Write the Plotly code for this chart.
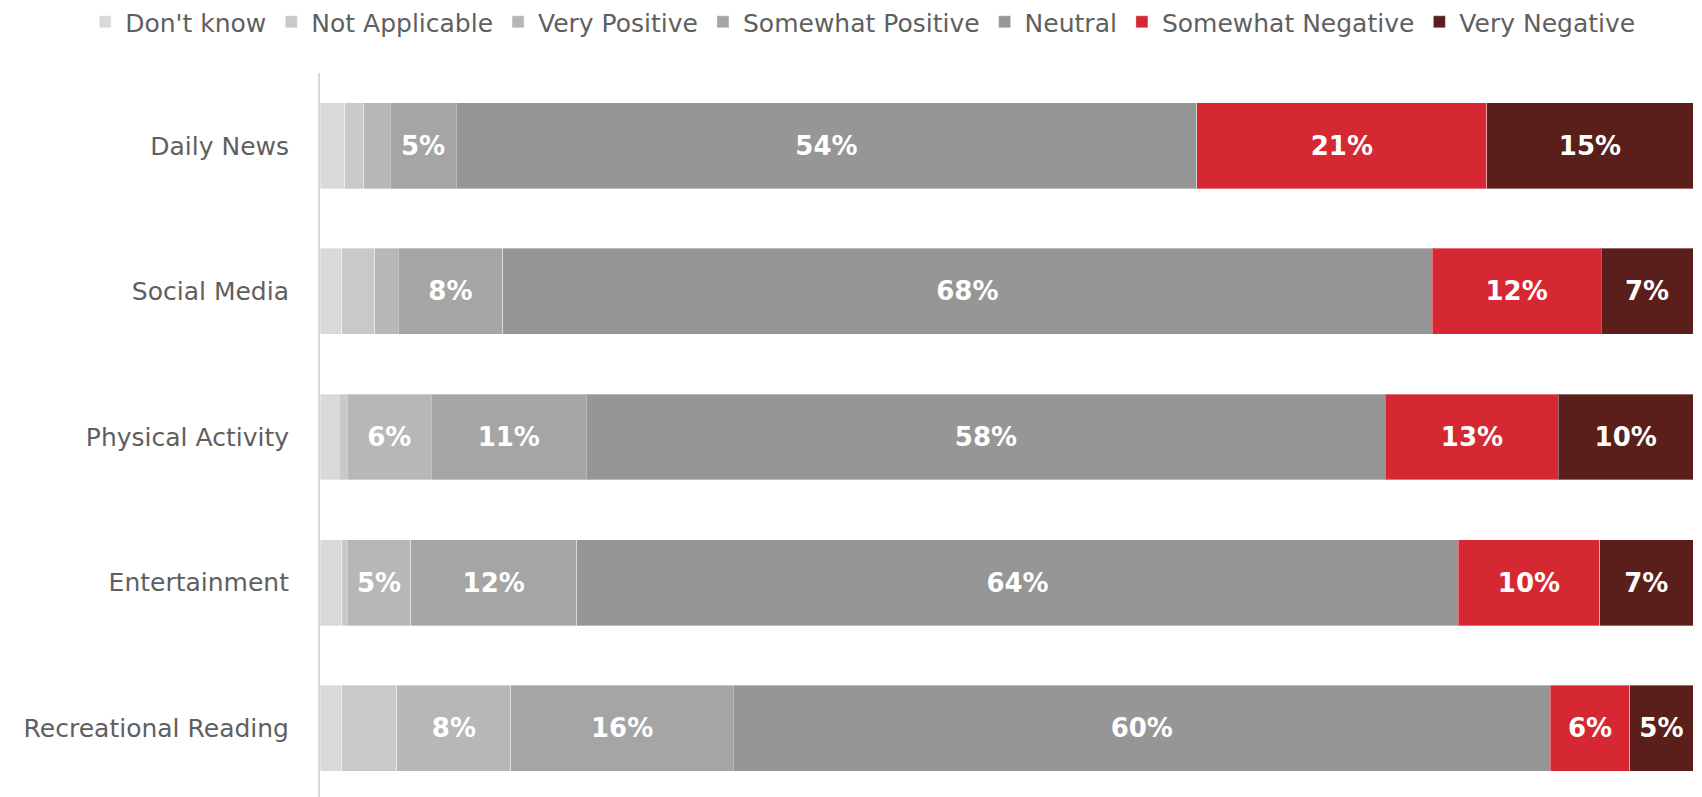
import plotly.graph_objects as go

categories = ["Daily News", "Social Media", "Physical Activity", "Entertainment", "Recreational Reading"]

dont_know = [1.8, 1.6, 1.4, 1.6, 1.6]
not_applicable = [1.4, 2.4, 0.6, 0.4, 4.0]
very_positive = [1.9, 1.7, 6.1, 4.6, 8.3]
somewhat_positive = [4.8, 7.6, 11.3, 12.1, 16.2]
neutral = [53.9, 67.7, 58.2, 64.2, 59.5]
somewhat_negative = [21.1, 12.3, 12.6, 10.3, 5.8]
very_negative = [15.0, 6.7, 9.8, 6.8, 4.6]

series = [
    ("Don't know", dont_know, "#D9D9D9"),
    ("Not Applicable", not_applicable, "#C9C9C9"),
    ("Very Positive", very_positive, "#B7B7B7"),
    ("Somewhat Positive", somewhat_positive, "#A5A5A5"),
    ("Neutral", neutral, "#969696"),
    ("Somewhat Negative", somewhat_negative, "#D62832"),
    ("Very Negative", very_negative, "#5B1F1B"),
]

FONT = "DejaVu Sans"

fig = go.Figure()
for name, vals, color in series:
    # only label segments wide enough to hold the number
    labels = [f"{int(v + 0.5)}%" if v >= 4.5 else "" for v in vals]
    fig.add_trace(go.Bar(
        y=categories,
        x=vals,
        name=name,
        orientation="h",
        marker=dict(color=color, line=dict(color="rgba(255,255,255,0.35)", width=1)),
        text=labels,
        textposition="inside",
        insidetextanchor="middle",
        textangle=0,
        constraintext="none",
        textfont=dict(family=FONT, size=26, color="white", weight="bold"),
    ))

# page body has an 8px margin, margins below allow for it
fig.update_layout(
    barmode="stack",
    barnorm="percent",
    bargap=0.41,
    width=1702,
    height=797,
    margin=dict(l=312, r=17, t=65, b=4, autoexpand=False),
    paper_bgcolor="white",
    plot_bgcolor="white",
    font=dict(family=FONT, size=25, color="#5f5f5f"),
    legend=dict(
        orientation="h",
        xref="paper",
        yref="paper",
        x=-0.171,
        xanchor="left",
        y=1.07,
        yanchor="middle",
        font=dict(family=FONT, size=25, color="#5f5f5f"),
        itemwidth=30,
        traceorder="normal",
    ),
    xaxis=dict(range=[0, 100], visible=False, fixedrange=True),
    yaxis=dict(
        categoryorder="array",
        categoryarray=categories[::-1],
        showline=True,
        linecolor="#D9D9D9",
        linewidth=2,
        showgrid=False,
        ticks="",
        ticklabelstandoff=24,
        tickfont=dict(family=FONT, size=25, color="#5f5f5f"),
    ),
)

fig.write_html("out.html")
